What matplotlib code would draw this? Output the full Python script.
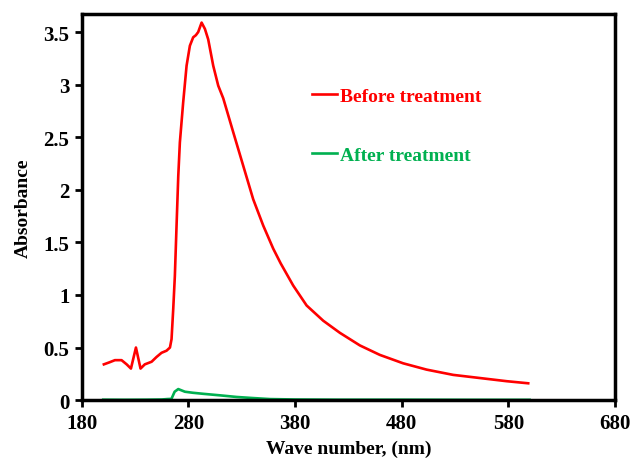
import numpy as np
import matplotlib.pyplot as plt

# wavelength (nm) and absorbance
before_nm = [200.6, 206, 211, 217.2, 222, 226, 230.7, 235, 239, 245.4, 250,
             254.7, 259.4, 262.6, 264.1, 265.7, 267.2, 268.8, 270.4, 271.9,
             275.0, 278.2, 281.3, 284.4, 286.9, 289.1, 292.3, 295.4, 298.5,
             303.2, 307.9, 312.6, 321.9, 331.3, 340.7, 350.1, 359.5, 366.5,
             378.2, 390.8, 406.4, 422, 440.8, 459.5, 481.4, 503.4, 528.3,
             553.4, 578.4, 598.7]
before_abs = [0.34, 0.36, 0.38, 0.38, 0.34, 0.30, 0.50, 0.30, 0.34, 0.365,
              0.41, 0.45, 0.47, 0.50, 0.58, 0.87, 1.18, 1.66, 2.13, 2.45,
              2.83, 3.18, 3.37, 3.45, 3.47, 3.50, 3.59, 3.53, 3.43,
              3.18, 2.99, 2.87, 2.55, 2.23, 1.91, 1.66, 1.44, 1.30,
              1.09, 0.90, 0.755, 0.64, 0.52, 0.43, 0.35, 0.29, 0.24,
              0.21, 0.18, 0.16]

after_nm = [200, 220, 240, 255, 260, 264, 267, 270.4, 276.6, 284, 293.8, 310,
            325.1, 340, 356.4, 380, 420, 480, 540, 600]
after_abs = [0.004, 0.003, 0.004, 0.006, 0.01, 0.012, 0.08, 0.105, 0.08, 0.07,
             0.06, 0.045, 0.03, 0.02, 0.01, 0.006, 0.004, 0.004, 0.003, 0.003]

x_ticks = [180, 280, 380, 480, 580, 680]
y_ticks = [0, 0.5, 1, 1.5, 2, 2.5, 3, 3.5]
y_labels = ["0", "0.5", "1", "1.5", "2", "2.5", "3", "3.5"]

plt.rcParams["font.family"] = ["Liberation Serif", "DejaVu Serif"]
plt.rcParams["font.weight"] = "bold"

fig = plt.figure(figsize=(6.3, 4.6), dpi=100)
ax = fig.add_axes([0.130, 0.128, 0.846, 0.839])

ax.plot(before_nm, before_abs, color="#ff0000", lw=1.9, label="Before treatment")
ax.plot(after_nm, after_abs, color="#00b050", lw=1.9, label="After treatment")

ax.set_xlim(180, 680)
ax.set_ylim(0, 3.67)
ax.set_xticks(x_ticks)
ax.set_yticks(y_ticks)
ax.set_yticklabels(y_labels)
ax.tick_params(axis="both", direction="out", length=5, width=2, labelsize=15, pad=4)

for s in ax.spines.values():
    s.set_linewidth(2.5)

ax.set_xlabel("Wave number, (nm)", fontsize=14, fontweight="bold", labelpad=5)
ax.set_ylabel("Absorbance", fontsize=14, fontweight="bold", labelpad=8)

leg = ax.legend(loc="upper left", bbox_to_anchor=(0.4315, 0.81), frameon=False,
                fontsize=14, labelcolor="linecolor", handlelength=1.3,
                handletextpad=0.15, labelspacing=2.1, borderaxespad=0, borderpad=0)

fig.savefig("out.png", dpi=100)
